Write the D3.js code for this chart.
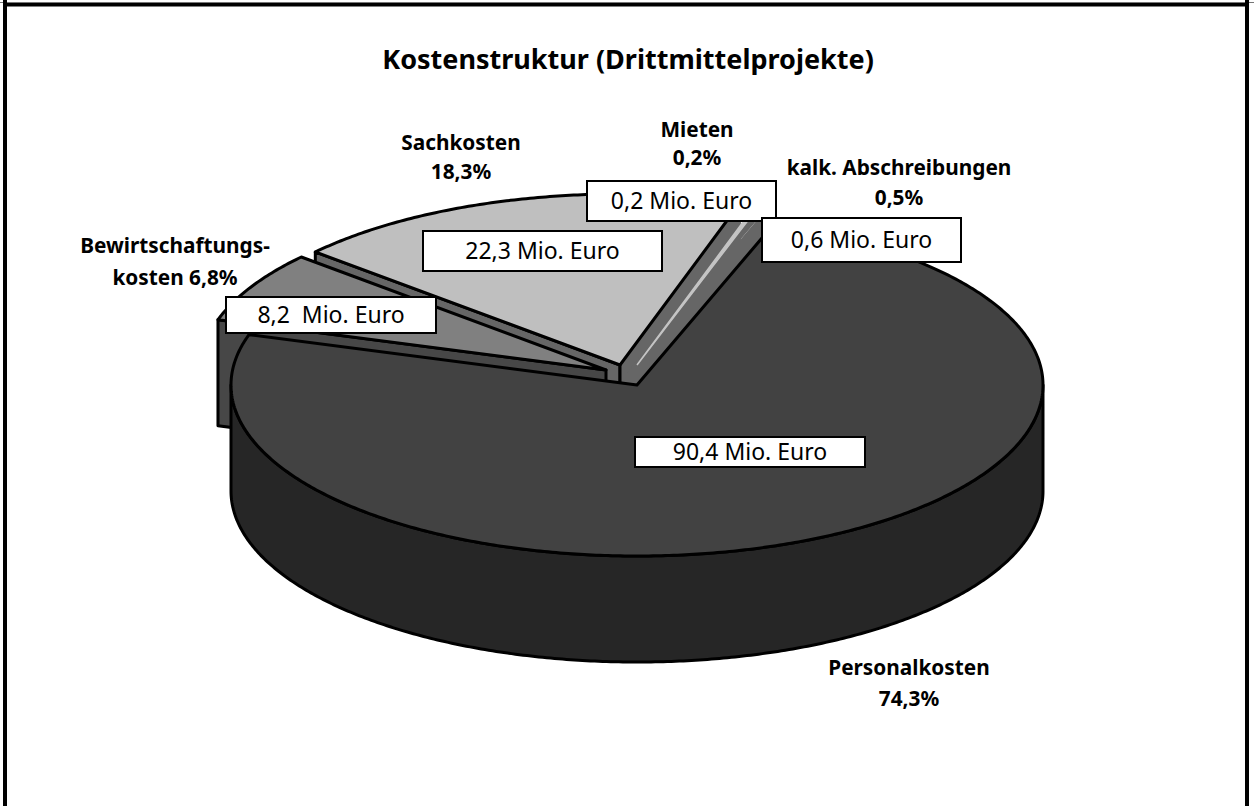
<!DOCTYPE html>
<html><head><meta charset="utf-8">
<script src="https://cdn.jsdelivr.net/npm/d3@7"></script>
<style>html,body{margin:0;padding:0;background:#fff;overflow:hidden}svg{display:block}</style>
</head><body><svg id="c" width="1254" height="806"></svg>
<script>
const categories = ["Personalkosten","Bewirtschaftungskosten","Sachkosten","Mieten","kalk. Abschreibungen"];
const values = [90.4, 8.2, 22.3, 0.2, 0.6];
const amountLabels = ["90,4 Mio. Euro","8,2  Mio. Euro","22,3 Mio. Euro","0,2 Mio. Euro","0,6 Mio. Euro"];
const titleText = "Kostenstruktur (Drittmittelprojekte)";
const calloutLines = [["Personalkosten","74,3%"],["Bewirtschaftungs-","kosten 6,8%"],["Sachkosten","18,3%"],["Mieten","0,2%"],["kalk. Abschreibungen","0,5%"]];

// layout, by slice index
const font = "'Noto Sans', sans-serif";
const C = {x:637, y:385, rx:406, ry:171, depth:106};
const explode = [[0,0],[-31,-15],[-17,-20],[0,-20],[-10,-12]];
const topFill = ["#424242","#808080","#bfbfbf","#c4c4c4","#666666"];
const wallFill = ["#262626","#474747","#666666","#666666","#666666"];
const calloutPos = [[909,675,31],[175,253,32],[461,150,29],[697,137,28],[899,175,30]];
const boxes = [[635,437,230,30],[226,297,210,36],[423,231,239,40],[587,181,189,40],[762,218,199,44]];
const drawOrder = [2,4,3,1,0];

const svg = d3.select("#c");
const pie = d3.pie().sort(null).startAngle(19.7*Math.PI/180).endAngle((19.7+360)*Math.PI/180);
const arcs = pie(values);
const line = d3.line();
const pt = (i,a,down=0)=>[C.x+explode[i][0]+C.rx*Math.sin(a), C.y+explode[i][1]-C.ry*Math.cos(a)+down];
const apex = (i,down=0)=>[C.x+explode[i][0], C.y+explode[i][1]+down];
const arcPts = (i,a0,a1,down=0)=>{
  const n=Math.max(2,Math.ceil(Math.abs(a1-a0)/0.01));
  return d3.range(n+1).map(k=>pt(i,a0+(a1-a0)*k/n,down));
};
const S = {stroke:"#000","stroke-width":3,"stroke-linejoin":"round"};
const shape=(pts,fill,stroked,close=true)=>{
  const p=svg.append("path").attr("d",line(pts)+(close?"Z":"")).attr("fill",fill);
  if(stroked) Object.entries(S).forEach(([k,v])=>p.attr(k,v));
  return p;
};

// frame
svg.append("rect").attr("x",0).attr("y",2).attr("width",1254).attr("height",1).attr("fill","#777");
svg.append("rect").attr("x",3).attr("y",3).attr("width",1246).attr("height",3.5).attr("fill","#000");
svg.append("rect").attr("x",3).attr("y",0).attr("width",4).attr("height",806).attr("fill","#000");
svg.append("rect").attr("x",1245).attr("y",0).attr("width",4).attr("height",806).attr("fill","#000");

drawOrder.forEach(i=>{
  const a0=arcs[i].startAngle, a1=arcs[i].endAngle, D=C.depth;
  if(i===0){
    const f0=Math.PI/2, f1=Math.PI*1.5;
    shape([...arcPts(i,f0,f1),...arcPts(i,f1,f0,D)],wallFill[i],true);
  } else if(i===2){
    shape([apex(i),pt(i,a0),pt(i,a0,D),apex(i,D)],wallFill[i],true);
    shape([apex(i),pt(i,a1),pt(i,a1,D),apex(i,D)],wallFill[i],false);
    svg.append("line").attr("x1",apex(i)[0]).attr("y1",apex(i)[1]).attr("x2",apex(i)[0]).attr("y2",apex(i,D)[1]).attr("stroke","#000").attr("stroke-width",3);
  } else if(i===1){
    shape([apex(i),pt(i,a0),pt(i,a0,D),apex(i,D)],wallFill[i],true);
  } else if(i===4){
    shape([apex(i),pt(i,a1),pt(i,a1,D),apex(i,D)],wallFill[i],false);
  }
  const p=shape([apex(i),...arcPts(i,a0,a1)],topFill[i],i<3);
  if(i===3) p.attr("stroke",topFill[i]).attr("stroke-width",1.5);
});

// value boxes
boxes.forEach((b,i)=>{
  svg.append("rect").attr("x",b[0]).attr("y",b[1]).attr("width",b[2]).attr("height",b[3])
    .attr("fill","#fff").attr("stroke","#000").attr("stroke-width",2);
  svg.append("text").attr("x",b[0]+b[2]/2).attr("y",b[1]+b[3]/2+8).attr("text-anchor","middle")
    .attr("xml:space","preserve").style("white-space","pre")
    .attr("font-family",font).attr("font-size",23).attr("fill","#000").text(amountLabels[i]);
});

// callouts
calloutLines.forEach((ls,i)=>{
  const [x,y,lh]=calloutPos[i];
  ls.forEach((t,k)=>svg.append("text").attr("x",x).attr("y",y+k*lh).attr("text-anchor","middle")
    .attr("font-family",font).attr("font-weight",700).attr("font-size",20.8).attr("fill","#000").text(t));
});

svg.append("text").attr("x",628).attr("y",69).attr("text-anchor","middle")
  .attr("font-family",font).attr("font-weight",700).attr("font-size",27).attr("fill","#000").text(titleText);
</script></body></html>
